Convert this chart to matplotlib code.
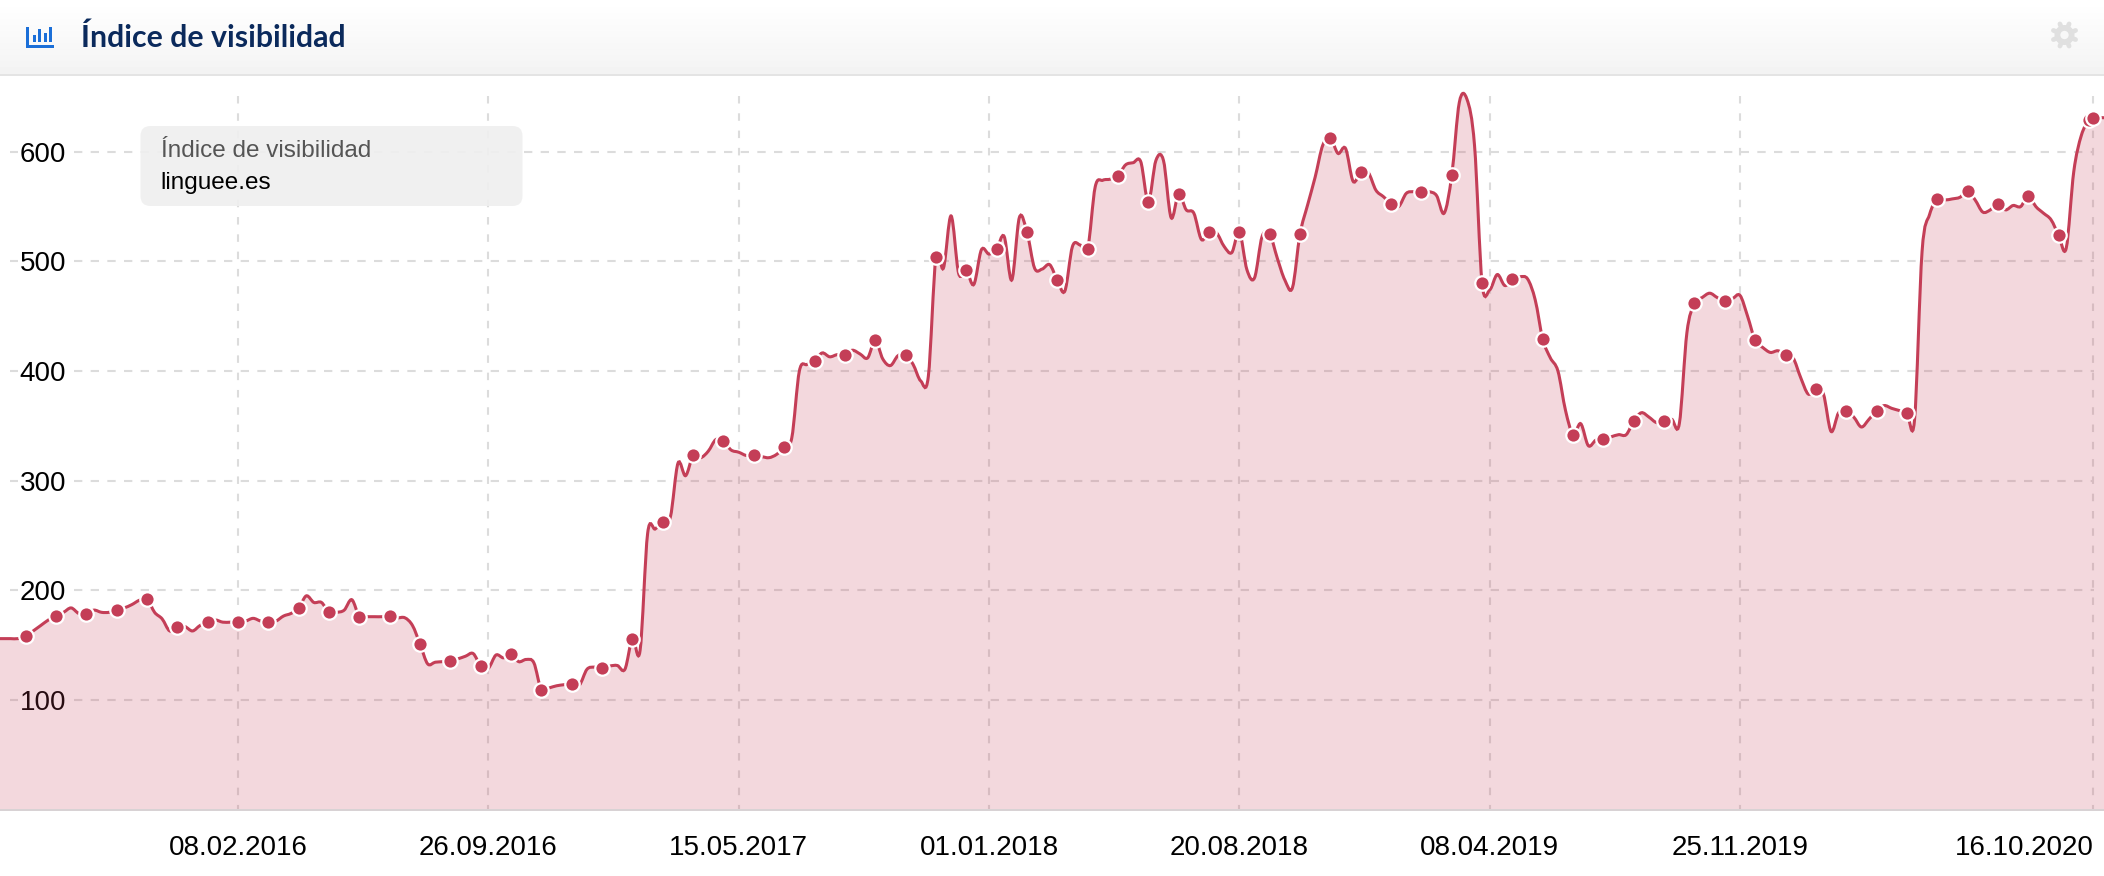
import numpy as np
import matplotlib
matplotlib.use("Agg")
import matplotlib.pyplot as plt
import matplotlib.dates as mdates
from datetime import datetime, timedelta
from matplotlib.path import Path
from matplotlib.patches import PathPatch, FancyBboxPatch, Rectangle, Circle

plt.rcParams["font.family"] = ["Liberation Sans", "DejaVu Sans"]

# weekly values, starting 29.06.2015, every fourth one carries a dot
week_values = [
    156, 156, 156, 156,
    158, 163, 168, 173,
    177, 180, 184, 179,
    178.5, 182, 180, 180,
    182, 184, 187, 191,
    192.5, 180, 174, 163,
    167, 167, 163, 168,
    171, 173, 171, 171,
    171, 172, 174.5, 172,
    171, 172, 176.6, 179,
    183.6, 195, 189, 189,
    180, 180, 182, 191.5,
    176, 176, 176, 176,
    176.7, 175, 175, 168,
    151, 133, 134.5, 135,
    136, 137.6, 140, 142.4,
    131, 129, 141, 138.5,
    142, 135, 137, 134,
    109, 111, 113, 114,
    115, 113.6, 128, 130,
    129, 131, 131.5, 128,
    156, 145, 252, 256,
    262.7, 267, 316, 304.6,
    323, 321, 327, 337.6,
    336, 328, 326, 323,
    323, 322, 321, 324,
    330.6, 339, 400, 406,
    409, 416.5, 413, 415,
    415, 419, 415.6, 412,
    428, 411, 405, 414,
    415, 406, 391, 395,
    503.6, 494, 541.5, 489,
    492, 479, 510.6, 506.7,
    511, 522.7, 483, 540,
    527, 494, 493, 497,
    483, 473, 513.6, 515,
    511, 568, 574, 575,
    578, 588, 590, 591,
    554.5, 592, 592, 540,
    561.5, 547, 544, 520,
    527, 526, 513.6, 508,
    527, 492.4, 485, 522.7,
    525, 503, 483, 476,
    525, 551.5, 577, 606,
    612.7, 598.5, 603, 573,
    581.5, 581, 565, 559,
    552.7, 550, 562, 563.6,
    563.6, 563.6, 560, 544,
    578.5, 645, 648, 606,
    480, 474, 488, 478,
    483.6, 486, 484, 465,
    429, 412, 400, 364,
    342, 352, 332, 337,
    338, 340, 342, 342,
    354.5, 362, 358, 353,
    354.5, 356, 352, 435,
    462, 467, 471, 467,
    463.6, 466, 469, 450,
    428, 421.5, 417, 418.5,
    415, 412, 394, 379,
    384, 379, 345, 362,
    363.6, 358, 349, 356,
    363.6, 368.5, 366, 364,
    362, 355, 509, 543,
    556.7, 556, 557, 558.5,
    564, 556, 545, 547,
    552.7, 547, 551, 550,
    560, 550, 544, 538,
    524, 512, 582, 615,
    629,
]
last_value = 631
first_week = "29.06.2015"
last_date = "16.10.2020"
end_date = "26.10.2020"

x_ticks = ["08.02.2016", "26.09.2016", "15.05.2017", "01.01.2018",
           "20.08.2018", "08.04.2019", "25.11.2019", "16.10.2020"]
y_ticks = [100, 200, 300, 400, 500, 600]

title = "Índice de visibilidad"
box_title = "Índice de visibilidad"
box_domain = "linguee.es"

red = "#c43e57"
grid_color = "#dcdcdc"

W, H = 2104, 876
header_h = 76
base_y = 809.7
px_per_unit = 1.0966
px_per_day = 1.0837
first_tick_x = 238


def parse(s):
    return datetime.strptime(s, "%d.%m.%Y")


dates = [parse(first_week) + timedelta(days=7 * i) for i in range(len(week_values))]
dates = dates + [parse(last_date), parse(end_date)]
values = week_values + [last_value, last_value]
xs = mdates.date2num(dates)
ys = np.array(values, dtype=float)

dot_x = list(xs[4:len(week_values):4]) + [xs[-2]]
dot_y = list(ys[4:len(week_values):4]) + [ys[-2]]

# bezier segments through the weekly values, the original line is a spline
verts = [(xs[0], ys[0])]
codes = [Path.MOVETO]
for i in range(len(xs) - 1):
    a = max(i - 1, 0)
    b = min(i + 2, len(xs) - 1)
    c1 = (xs[i] + (xs[i + 1] - xs[a]) / 6, ys[i] + (ys[i + 1] - ys[a]) / 6)
    c2 = (xs[i + 1] - (xs[b] - xs[i]) / 6, ys[i + 1] - (ys[b] - ys[i]) / 6)
    verts += [c1, c2, (xs[i + 1], ys[i + 1])]
    codes += [Path.CURVE4, Path.CURVE4, Path.CURVE4]

fill_verts = verts + [(xs[-1], 0), (xs[0], 0), (xs[0], ys[0])]
fill_codes = codes + [Path.LINETO, Path.LINETO, Path.CLOSEPOLY]

fig = plt.figure(figsize=(W / 100, H / 100), dpi=100, facecolor="white")
ax = fig.add_axes([0, (H - base_y) / H, 1, (base_y - header_h) / H])

tick_nums = mdates.date2num([parse(t) for t in x_ticks])
x0 = tick_nums[0] - first_tick_x / px_per_day
x1 = tick_nums[0] + (W - first_tick_x) / px_per_day
ax.set_xlim(x0, x1)
ax.set_ylim(0, (base_y - header_h) / px_per_unit)

# grid sits under the transparent fill, it stops short around the y labels
for v in y_ticks:
    ax.plot([10 / W, 18 / W], [v, v], transform=ax.get_yaxis_transform(), color=grid_color,
            lw=1.5, linestyle=(0, (4, 4)), zorder=1)
    ax.plot([74 / W, 2094 / W], [v, v], transform=ax.get_yaxis_transform(), color=grid_color,
            lw=1.5, linestyle=(0, (4, 4)), zorder=1)
ax.vlines(tick_nums, (base_y - 96) / px_per_unit, 0, color=grid_color, lw=1.5,
          linestyle=(0, (3.6, 4.7)), zorder=1)

ax.add_patch(PathPatch(Path(fill_verts, fill_codes), facecolor=red, edgecolor="none", alpha=0.2, zorder=2))
ax.add_patch(PathPatch(Path(verts, codes), facecolor="none", edgecolor=red, lw=2.2, zorder=3))
ax.plot(dot_x, dot_y, "o", color=red, markersize=10.4, markeredgecolor="white", markeredgewidth=1.6,
        zorder=4, clip_on=False)

ax.set_xticks(tick_nums)
ax.set_xticklabels(x_ticks, fontsize=20, color="black")
ax.set_yticks(y_ticks)
ax.set_yticklabels([str(v) for v in y_ticks], fontsize=20, color="black")
ax.tick_params(axis="x", length=0, pad=18)
ax.tick_params(axis="y", length=0, pad=-47.5)
ax.get_xticklabels()[-1].set_ha("right")
for s in ["top", "left", "right"]:
    ax.spines[s].set_visible(False)
ax.spines["bottom"].set_color("#d8d2d4")
ax.spines["bottom"].set_linewidth(1.44)

# header strip, icons and tooltip live in pixel coordinates
top = fig.add_axes([0, 0, 1, 1])
top.set_xlim(0, W)
top.set_ylim(H, 0)
top.axis("off")
top.patch.set_alpha(0)

grad = np.linspace(1.0, 0.953, 74).reshape(-1, 1)
top.imshow(grad, cmap="gray", vmin=0, vmax=1, extent=(0, W, 74, 0), aspect="auto", zorder=1)
top.set_xlim(0, W)
top.set_ylim(H, 0)
top.add_patch(Rectangle((0, 74), W, 2, color="#e4e4e4", lw=0, zorder=2))

icon_blue = "#1b6fd8"
top.add_patch(Rectangle((26, 27), 3, 21, color=icon_blue, lw=0, zorder=3))
top.add_patch(Rectangle((26, 45), 28, 3.2, color=icon_blue, lw=0, zorder=3))
for bx, by in [(32.5, 35), (38.3, 29), (43.6, 33), (49.4, 27)]:
    top.add_patch(Rectangle((bx, by), 3, 41.5 - by, color=icon_blue, lw=0, zorder=3))

top.text(81, 38, title, fontsize=21.8, fontfamily="Lato", fontweight="bold", color="#0b2a5c",
         va="center", ha="left", zorder=3)

gear_x, gear_y = 2064.5, 35
for ang in np.arange(0, 360, 45):
    dx, dy = np.cos(np.radians(ang + 22.5)), np.sin(np.radians(ang + 22.5))
    top.plot([gear_x + 8 * dx, gear_x + 12 * dx], [gear_y + 8 * dy, gear_y + 12 * dy], color="#e0e0e0",
             lw=3.4, solid_capstyle="round", zorder=3)
top.add_patch(Circle((gear_x, gear_y), 10, color="#e0e0e0", lw=0, zorder=3))
top.add_patch(Circle((gear_x, gear_y), 4.2, color="#f8f8f8", lw=0, zorder=4))

top.add_patch(FancyBboxPatch((148.5, 134), 366, 64, boxstyle="round,pad=8,rounding_size=10",
                             facecolor="#efefef", edgecolor="none", alpha=0.93, zorder=3))
top.text(160.7, 151, box_title, fontsize=17.5, color="#555555", va="center", ha="left", zorder=4)
top.text(160.7, 183, box_domain, fontsize=17.5, color="black", va="center", ha="left", zorder=4)

fig.savefig("out.png", dpi=100)
